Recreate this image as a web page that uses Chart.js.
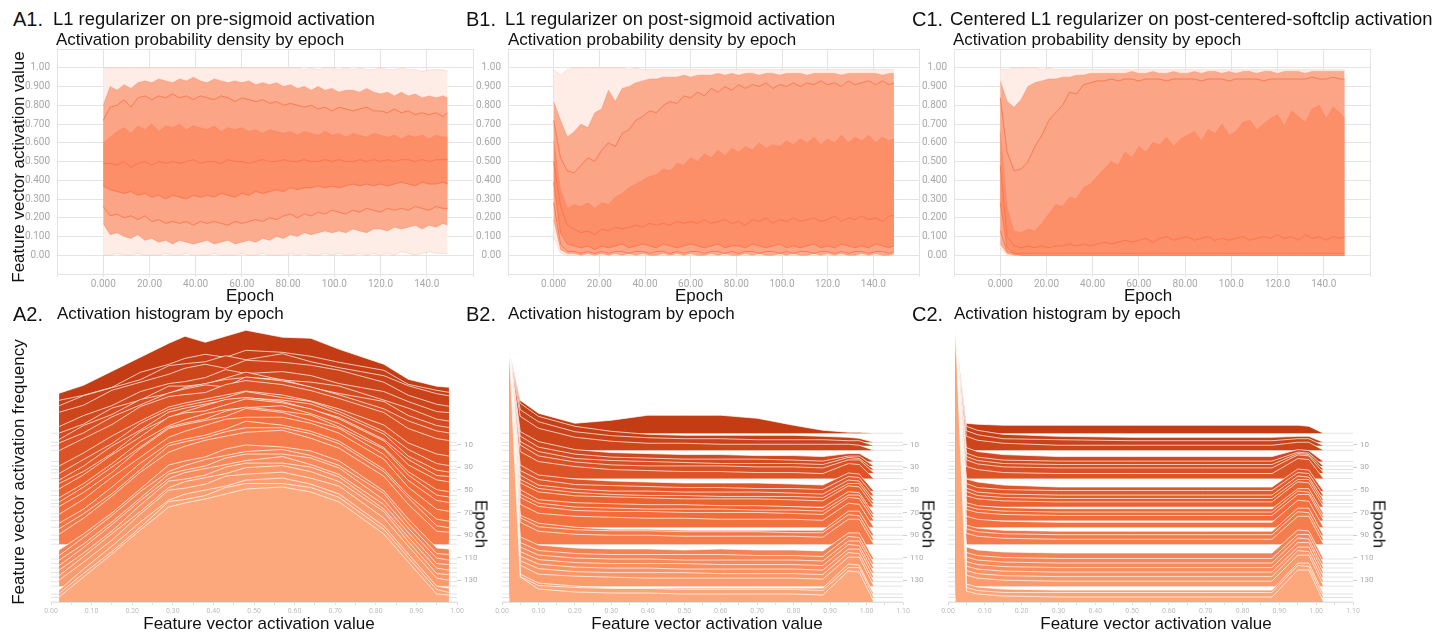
<!DOCTYPE html>
<html>
<head>
<meta charset="utf-8">
<script src="https://cdn.jsdelivr.net/npm/chart.js@4.4.1/dist/chart.umd.min.js"></script>
<style>
    body { margin: 0; width: 1449px; height: 639px; overflow: hidden; position: relative; background: #fff;
           font-family: "Liberation Sans", Arial, sans-serif; color: #111; }
    canvas { position: absolute; }
    .t { position: absolute; white-space: nowrap; line-height: 1; }
    .tag { font-size: 20px; }
    .h1 { font-size: 18.4px; }
    .h2 { font-size: 17px; }
    .ax { font-size: 17px; }
    .c { transform: translateX(-50%); }
    .rl { transform: translate(-50%, -50%) rotate(-90deg); }
    .rr { transform: translate(-50%, -50%) rotate(90deg); }
</style>
</head>
<body>
<canvas id="a1" width="476" height="261" style="left:7px;top:35px"></canvas>
<canvas id="b1" width="471" height="261" style="left:458px;top:35px"></canvas>
<canvas id="c1" width="476" height="261" style="left:904px;top:35px"></canvas>
<canvas id="a2" width="448" height="308" style="left:39px;top:310px"></canvas>
<canvas id="b2" width="443" height="308" style="left:490px;top:310px"></canvas>
<canvas id="c2" width="447" height="308" style="left:936px;top:310px"></canvas>

<div class="t tag" style="left:13px;top:9px">A1.</div>
<div class="t h1" style="left:53px;top:10px">L1 regularizer on pre-sigmoid activation</div>
<div class="t h2" style="left:56px;top:31px">Activation probability density by epoch</div>
<div class="t tag" style="left:466px;top:9px">B1.</div>
<div class="t h1" style="left:505px;top:10px">L1 regularizer on post-sigmoid activation</div>
<div class="t h2" style="left:508px;top:31px">Activation probability density by epoch</div>
<div class="t tag" style="left:912px;top:9px">C1.</div>
<div class="t h1" style="left:950px;top:10px">Centered L1 regularizer on post-centered-softclip activation</div>
<div class="t h2" style="left:953px;top:31px">Activation probability density by epoch</div>

<div class="t ax c" style="left:250px;top:287px">Epoch</div>
<div class="t ax c" style="left:699px;top:287px">Epoch</div>
<div class="t ax c" style="left:1148px;top:287px">Epoch</div>

<div class="t tag" style="left:13px;top:304px">A2.</div>
<div class="t h2" style="left:57px;top:305px">Activation histogram by epoch</div>
<div class="t tag" style="left:466px;top:304px">B2.</div>
<div class="t h2" style="left:508px;top:305px">Activation histogram by epoch</div>
<div class="t tag" style="left:912px;top:304px">C2.</div>
<div class="t h2" style="left:954px;top:305px">Activation histogram by epoch</div>

<div class="t ax c" style="left:259px;top:615px">Feature vector activation value</div>
<div class="t ax c" style="left:707px;top:615px">Feature vector activation value</div>
<div class="t ax c" style="left:1156px;top:615px">Feature vector activation value</div>

<div class="t ax rl" style="left:18px;top:167px">Feature vector activation value</div>
<div class="t ax rl" style="left:18px;top:472px">Feature vector activation frequency</div>
<div class="t ax rr" style="left:481px;top:524px">Epoch</div>
<div class="t ax rr" style="left:928px;top:524px">Epoch</div>
<div class="t ax rr" style="left:1379px;top:524px">Epoch</div>

<script>
// ===========================================================================
// Activation density (top row) and activation histograms (bottom row)
// ===========================================================================

// ---- Top row: percentile bands per epoch ----------------------------------
const TOP_EPOCHS = [0,3,6,9,12,15,18,21,24,27,30,33,36,39,42,45,48,51,54,57,60,63,66,69,72,75,78,81,84,87,90,93,96,99,102,105,108,111,114,117,120,123,126,129,132,135,138,141,144,147,149];
const TOP_X_TICKS = [-20,0,20,40,60,80,100,120,140,160];
const TOP_X_LABELS = ["","0.000","20.00","40.00","60.00","80.00","100.0","120.0","140.0",""];
const TOP_Y_TICKS = [-0.1,0,0.1,0.2,0.3,0.4,0.5,0.6,0.7,0.8,0.9,1.0,1.1];
const TOP_Y_LABELS = ["","0.00","0.100","0.200","0.300","0.400","0.500","0.600","0.700","0.800","0.900","1.00",""];

const A1_MAX = [1.00,1.00,1.00,1.00,1.00,1.00,1.00,1.00,1.00,1.00, 1.00,1.00,1.00,1.00,1.00,1.00,1.00,1.00,1.00,1.00, 1.00,1.00,1.00,1.00,1.00,1.00,1.00,1.00,1.00,0.99, 1.00,0.99,1.00,1.00,0.99,1.00,0.99,1.00,0.99,0.99, 1.00,0.99,0.99,1.00,0.99,0.99,0.98,0.99,0.99,0.99,0.98];
const A1_P93 = [0.80,0.90,0.88,0.91,0.89,0.92,0.93,0.92,0.94,0.93, 0.92,0.94,0.93,0.95,0.93,0.92,0.94,0.93,0.92,0.93, 0.92,0.93,0.91,0.92,0.91,0.92,0.90,0.91,0.89,0.90, 0.88,0.90,0.88,0.89,0.87,0.88,0.88,0.87,0.89,0.87, 0.86,0.87,0.85,0.87,0.85,0.86,0.84,0.85,0.84,0.85,0.84];
const A1_P84 = [0.72,0.79,0.80,0.83,0.79,0.84,0.85,0.83,0.85,0.84, 0.86,0.84,0.85,0.83,0.85,0.84,0.83,0.85,0.84,0.82, 0.84,0.83,0.82,0.83,0.81,0.82,0.80,0.81,0.80,0.79, 0.80,0.78,0.79,0.77,0.79,0.78,0.77,0.78,0.79,0.77, 0.77,0.76,0.78,0.76,0.77,0.75,0.76,0.75,0.76,0.74,0.76];
const A1_P69 = [0.60,0.63,0.66,0.68,0.65,0.69,0.67,0.70,0.66,0.69, 0.68,0.70,0.67,0.69,0.68,0.67,0.69,0.66,0.68,0.67, 0.68,0.66,0.67,0.65,0.67,0.66,0.65,0.66,0.64,0.66, 0.65,0.64,0.66,0.64,0.65,0.63,0.65,0.64,0.63,0.65, 0.64,0.63,0.64,0.62,0.64,0.63,0.64,0.62,0.64,0.63,0.63];
const A1_P50 = [0.49,0.49,0.48,0.50,0.47,0.49,0.50,0.48,0.50,0.49, 0.50,0.49,0.50,0.51,0.49,0.50,0.50,0.49,0.51,0.50, 0.50,0.49,0.50,0.51,0.50,0.50,0.51,0.50,0.50,0.51, 0.50,0.50,0.51,0.50,0.51,0.50,0.50,0.51,0.50,0.51, 0.50,0.51,0.50,0.51,0.51,0.50,0.51,0.50,0.51,0.51,0.51];
const A1_P31 = [0.37,0.35,0.34,0.33,0.34,0.32,0.33,0.31,0.32,0.30, 0.32,0.31,0.30,0.32,0.31,0.32,0.31,0.33,0.32,0.31, 0.33,0.32,0.34,0.33,0.34,0.35,0.34,0.36,0.35,0.36, 0.36,0.37,0.36,0.37,0.36,0.37,0.38,0.37,0.38,0.37, 0.38,0.37,0.38,0.39,0.38,0.37,0.39,0.38,0.38,0.39,0.38];
const A1_P16 = [0.26,0.21,0.22,0.20,0.21,0.19,0.21,0.18,0.19,0.17, 0.18,0.17,0.18,0.16,0.18,0.17,0.18,0.17,0.16,0.18, 0.17,0.18,0.19,0.18,0.20,0.19,0.21,0.22,0.20,0.22, 0.21,0.23,0.22,0.24,0.23,0.22,0.24,0.23,0.25,0.24, 0.23,0.25,0.24,0.25,0.24,0.26,0.25,0.24,0.26,0.25,0.25];
const A1_P7 = [0.17,0.11,0.12,0.10,0.09,0.11,0.08,0.09,0.07,0.08, 0.06,0.08,0.07,0.06,0.07,0.08,0.06,0.07,0.08,0.06, 0.07,0.08,0.07,0.09,0.08,0.10,0.09,0.11,0.10,0.12, 0.11,0.12,0.13,0.12,0.13,0.12,0.14,0.13,0.12,0.14, 0.14,0.13,0.15,0.14,0.15,0.16,0.14,0.16,0.15,0.17,0.16];
const A1_MIN = [0.00,0.00,0.01,0.00,0.00,0.01,0.00,0.00,0.00,0.01, 0.00,0.00,0.01,0.00,0.00,0.00,0.01,0.00,0.00,0.00, 0.01,0.00,0.00,0.01,0.00,0.00,0.00,0.01,0.00,0.01, 0.00,0.00,0.01,0.00,0.01,0.00,0.00,0.01,0.00,0.01, 0.00,0.01,0.00,0.02,0.01,0.00,0.01,0.02,0.01,0.01,0.01];

const B1_MAX = [0.99,0.96,0.99,1.00,1.00,1.00,1.00,1.00,1.00,1.00, 1.00,0.99,1.00,0.99,0.99,0.99,0.99,0.99,0.99,0.99, 0.99,0.99,0.99,0.99,0.99,0.99,0.99,0.99,0.99,0.99, 0.99,0.99,0.99,0.99,0.99,0.99,0.99,0.99,0.99,0.99, 0.99,0.99,0.99,0.99,0.99,0.99,0.99,0.99,0.99,0.99,0.99];
const B1_P93 = [0.82,0.72,0.63,0.66,0.70,0.68,0.76,0.78,0.88,0.82, 0.89,0.90,0.92,0.93,0.94,0.94,0.95,0.95,0.95,0.96, 0.95,0.96,0.96,0.96,0.97,0.96,0.97,0.96,0.97,0.97, 0.96,0.97,0.97,0.96,0.97,0.97,0.97,0.96,0.97,0.97, 0.97,0.97,0.96,0.97,0.97,0.97,0.97,0.97,0.96,0.97,0.97];
const B1_P84 = [0.72,0.52,0.45,0.44,0.48,0.52,0.50,0.56,0.60,0.58, 0.65,0.67,0.72,0.74,0.77,0.76,0.80,0.82,0.81,0.85, 0.84,0.87,0.85,0.89,0.87,0.90,0.88,0.91,0.89,0.91, 0.90,0.92,0.89,0.91,0.90,0.92,0.90,0.92,0.91,0.93, 0.91,0.92,0.90,0.93,0.91,0.92,0.93,0.91,0.93,0.91,0.92];
const B1_P69 = [0.61,0.35,0.25,0.27,0.26,0.28,0.25,0.28,0.27,0.31, 0.33,0.36,0.38,0.40,0.42,0.43,0.46,0.45,0.49,0.48, 0.52,0.50,0.54,0.52,0.56,0.53,0.57,0.55,0.58,0.56, 0.60,0.57,0.59,0.58,0.61,0.59,0.62,0.60,0.63,0.59, 0.62,0.60,0.64,0.60,0.63,0.61,0.64,0.60,0.63,0.61,0.62];
const B1_P50 = [0.50,0.26,0.16,0.14,0.12,0.13,0.11,0.14,0.13,0.15, 0.14,0.15,0.16,0.15,0.17,0.16,0.17,0.16,0.18,0.17, 0.18,0.17,0.19,0.17,0.18,0.19,0.17,0.18,0.16,0.19, 0.18,0.20,0.17,0.19,0.18,0.20,0.18,0.19,0.20,0.18, 0.19,0.21,0.18,0.20,0.19,0.21,0.19,0.20,0.18,0.21,0.21];
const B1_P31 = [0.39,0.12,0.06,0.05,0.04,0.05,0.03,0.05,0.04,0.05, 0.06,0.04,0.05,0.06,0.05,0.04,0.06,0.05,0.04,0.05, 0.06,0.05,0.04,0.05,0.06,0.04,0.05,0.05,0.04,0.06, 0.05,0.04,0.05,0.06,0.04,0.05,0.04,0.05,0.06,0.04, 0.05,0.04,0.06,0.05,0.04,0.05,0.04,0.06,0.05,0.04,0.05];
const B1_P16 = [0.28,0.06,0.02,0.02,0.01,0.02,0.01,0.02,0.01,0.02, 0.02,0.01,0.02,0.02,0.01,0.02,0.02,0.01,0.02,0.01, 0.02,0.02,0.01,0.02,0.02,0.01,0.02,0.01,0.02,0.02, 0.01,0.02,0.02,0.01,0.02,0.01,0.02,0.02,0.01,0.02, 0.02,0.01,0.02,0.01,0.02,0.02,0.01,0.02,0.02,0.01,0.02];
const B1_P7 = [0.19,0.03,0.01,0.01,0.00,0.01,0.00,0.01,0.00,0.01, 0.00,0.01,0.00,0.01,0.00,0.00,0.01,0.00,0.01,0.00, 0.01,0.00,0.00,0.01,0.00,0.01,0.00,0.00,0.01,0.00, 0.01,0.00,0.00,0.01,0.00,0.01,0.00,0.00,0.01,0.00, 0.01,0.00,0.01,0.00,0.00,0.01,0.00,0.01,0.00,0.00,0.01];
const B1_MIN = [0.10,0.01,0,0,0,0,0,0,0,0, 0,0,0,0,0,0,0,0,0,0, 0,0,0,0,0,0,0,0,0,0, 0,0,0,0,0,0,0,0,0,0, 0,0,0,0,0,0,0,0,0,0,0];

const C1_MAX = [0.99,0.99,1.00,1.00,1.00,1.00,0.99,1.00,0.99,0.99, 0.99,0.99,0.99,0.99,0.99,0.99,0.99,0.99,0.99,0.99, 0.99,0.99,0.99,0.99,0.99,0.99,0.99,0.99,0.99,0.99, 0.99,0.99,0.99,0.99,0.99,0.99,0.99,0.99,0.99,0.99, 0.99,0.99,0.99,0.99,0.99,0.99,0.99,0.99,0.99,0.99,0.99];
const C1_P93 = [0.93,0.82,0.79,0.83,0.90,0.92,0.93,0.94,0.94,0.95, 0.95,0.96,0.96,0.97,0.97,0.97,0.97,0.97,0.97,0.98, 0.97,0.97,0.98,0.97,0.97,0.98,0.97,0.97,0.98,0.97, 0.98,0.98,0.97,0.98,0.97,0.98,0.98,0.97,0.98,0.98, 0.97,0.98,0.98,0.98,0.97,0.98,0.98,0.98,0.98,0.98,0.98];
const C1_P84 = [0.84,0.55,0.45,0.46,0.50,0.58,0.64,0.72,0.76,0.80, 0.87,0.86,0.91,0.92,0.93,0.93,0.94,0.93,0.94,0.94, 0.93,0.94,0.94,0.94,0.93,0.94,0.94,0.94,0.94,0.93, 0.94,0.94,0.94,0.93,0.94,0.94,0.94,0.94,0.93,0.94, 0.94,0.94,0.94,0.94,0.94,0.95,0.94,0.94,0.95,0.94,0.94];
const C1_P69 = [0.66,0.25,0.13,0.12,0.14,0.13,0.17,0.22,0.27,0.26, 0.31,0.30,0.36,0.38,0.42,0.46,0.50,0.48,0.55,0.52, 0.58,0.55,0.60,0.59,0.63,0.58,0.62,0.64,0.66,0.61, 0.67,0.65,0.70,0.64,0.66,0.71,0.72,0.67,0.70,0.73, 0.75,0.69,0.77,0.74,0.71,0.78,0.80,0.73,0.79,0.76,0.73];
const C1_P50 = [0.48,0.10,0.05,0.04,0.05,0.04,0.05,0.04,0.05,0.05, 0.06,0.05,0.06,0.05,0.06,0.07,0.06,0.07,0.08,0.07, 0.08,0.09,0.07,0.09,0.10,0.08,0.09,0.10,0.08,0.09, 0.10,0.08,0.09,0.08,0.09,0.10,0.08,0.09,0.10,0.09, 0.11,0.09,0.10,0.08,0.11,0.09,0.10,0.08,0.10,0.09,0.10];
const C1_P31 = [0.28,0.04,0.01,0.01,0.01,0.01,0.01,0.01,0.01,0.01, 0.01,0.01,0.01,0.01,0.01,0.01,0.01,0.01,0.01,0.01, 0.01,0.01,0.01,0.01,0.01,0.01,0.01,0.01,0.01,0.01, 0.01,0.01,0.01,0.01,0.01,0.01,0.01,0.01,0.01,0.01, 0.01,0.01,0.01,0.01,0.01,0.01,0.01,0.01,0.01,0.01,0.01];
const C1_P16 = [0.13,0.02,0.01,0,0,0,0,0,0,0, 0,0,0,0,0,0,0,0,0,0, 0,0,0,0,0,0,0,0,0,0, 0,0,0,0,0,0,0,0,0,0, 0,0,0,0,0,0,0,0,0,0,0];
const C1_P7 = [0.06,0.01,0,0,0,0,0,0,0,0, 0,0,0,0,0,0,0,0,0,0, 0,0,0,0,0,0,0,0,0,0, 0,0,0,0,0,0,0,0,0,0, 0,0,0,0,0,0,0,0,0,0,0];
const C1_MIN = [0.04,0,0,0,0,0,0,0,0,0, 0,0,0,0,0,0,0,0,0,0, 0,0,0,0,0,0,0,0,0,0, 0,0,0,0,0,0,0,0,0,0, 0,0,0,0,0,0,0,0,0,0,0];

// ---- Bottom row: sampled histograms (heights are relative frequency) -------
const HIST_EPOCHS = [0,8,11,15,25,29,32,35,40,51,55,59,62,65,71,74,77,83,90,94,98,111,115,119,123,127,131,135,142,145,149];
const EPOCH_TICKS = [10,30,50,70,90,110,130];

const A2_BINS = [0.02,0.08,0.15,0.22,0.29,0.33,0.38,0.43,0.48,0.57,0.64,0.71,0.82,0.88,0.95,0.98];
const A2_ROWS = [
    [40,48,62,76,90,97,91,97,103,96,95,84,69,54,47,46],
    [42,47,55,70,78,84,88,85,92,90,86,80,72,58,52,50],
    [40,50,58,66,80,82,84,90,86,92,84,78,70,60,52,50],
    [38,45,60,68,76,82,86,82,90,88,85,80,68,55,46,44],
    [35,46,56,70,78,80,84,92,88,90,86,78,70,60,50,49],
    [33,42,58,66,80,80,82,88,94,86,84,80,66,58,47,45],
    [30,44,55,70,76,82,86,90,92,90,82,76,68,54,44,42],
    [30,40,56,68,80,84,88,86,96,92,86,78,64,52,42,40],
    [28,40,54,72,82,84,86,94,98,94,88,80,66,50,40,38],
    [25,38,55,70,84,88,92,96,100,96,90,82,66,48,37,35],
    [22,36,52,72,86,90,94,98,104,98,94,84,64,46,32,30],
    [20,34,54,70,88,92,96,100,102,100,96,86,66,44,30,28],
    [20,32,50,72,86,92,98,104,106,102,94,86,64,44,28,27],
    [18,32,52,70,90,94,96,102,108,104,98,88,66,42,27,25],
    [16,30,50,72,88,94,100,104,106,108,100,90,66,42,24,22],
    [15,30,50,70,90,94,98,106,110,106,102,90,68,42,22,20],
    [14,28,48,72,92,96,100,104,112,108,100,92,66,40,20,18],
    [13,28,50,70,90,96,102,108,110,110,104,94,68,40,18,16],
    [12,26,48,72,92,96,100,106,114,110,104,94,66,40,16,14],
    [11,26,46,70,94,98,102,108,112,112,106,96,68,42,14,12],
    [10,26,48,72,92,98,104,108,112,114,106,96,68,40,13,12],
    [9,25,46,70,94,98,102,110,114,112,108,98,68,40,11,10],
    [8,26,48,72,92,98,104,108,112,114,108,98,70,40,10,9],
    [8,24,46,70,94,98,102,110,114,114,110,100,68,40,10,8],
    [7,25,48,72,94,100,104,108,112,116,108,98,68,40,9,8],
    [7,24,46,72,96,98,102,110,114,114,110,100,68,40,9,7],
    [6,25,48,70,94,100,104,108,114,116,110,100,70,40,8,7],
    [6,24,46,72,96,98,102,110,112,114,108,100,68,40,8,6],
    [4,25,48,72,94,100,104,108,114,116,110,100,68,40,8,6],
    [4,24,46,70,96,98,102,110,114,114,110,100,68,40,8,5],
    [5,25,48,72,95,99,103,108,113,115,110,100,68,40,8,7],
];
const A2_X_TICKS = [0,0.05,0.1,0.15,0.2,0.25,0.3,0.35,0.4,0.45,0.5,0.55,0.6,0.65,0.7,0.75,0.8,0.85,0.9,0.95,1.0];
const A2_X_LABELS = ["0.00","","0.10","","0.20","","0.30","","0.40","","0.50","","0.60","","0.70","","0.80","","0.90","","1.00"];

const B2_BINS = [0.02,0.05,0.10,0.20,0.30,0.40,0.50,0.60,0.70,0.80,0.88,0.95,0.98,1.02];
const B2_ROWS = [
    [83,33,20,10,13,18,18,18,15,8,3,1,1,0],
    [92,39,26,16,11,8,7,7,7,7,6,5,4,0],
    [96,36,24,14,10,8,7,7,6,6,6,5,5,0],
    [100,34,22,13,9,7,7,6,6,6,6,6,5,0],
    [112,30,20,12,9,8,7,7,6,6,5,8,8,0],
    [117,30,19,12,9,8,7,7,7,6,5,10,10,0],
    [120,28,18,11,9,8,7,6,6,6,5,12,11,0],
    [124,28,17,11,8,7,7,7,6,6,5,13,13,0],
    [128,27,17,12,9,8,7,7,6,6,5,15,14,0],
    [141,26,16,12,10,9,8,8,8,7,6,18,17,0],
    [145,25,16,11,10,9,8,8,7,7,6,19,18,0],
    [150,25,15,11,9,9,8,8,8,7,6,20,19,0],
    [153,24,15,11,9,8,8,7,7,7,6,20,20,0],
    [156,24,15,11,10,9,8,8,8,7,6,21,20,0],
    [163,24,14,11,10,9,9,8,8,7,6,22,21,0],
    [167,23,14,10,9,8,8,8,7,7,6,22,22,0],
    [170,23,14,10,9,9,8,8,8,7,6,23,22,0],
    [177,23,14,11,10,9,9,8,8,8,7,24,23,0],
    [185,20,12,8,6,6,5,5,5,5,5,24,24,0],
    [190,22,13,10,9,9,8,8,8,7,7,25,24,0],
    [194,22,13,10,9,9,8,8,8,8,7,25,25,0],
    [209,22,14,11,10,10,9,10,9,9,8,26,26,0],
    [213,21,13,10,9,9,9,9,8,8,7,27,26,0],
    [218,21,13,10,9,9,8,8,8,8,7,27,27,0],
    [222,21,13,10,9,9,9,8,8,8,7,28,27,0],
    [227,21,13,10,9,9,8,8,8,8,7,28,28,0],
    [231,21,13,10,9,9,9,8,8,8,7,29,28,0],
    [236,21,12,10,9,8,8,8,8,8,7,29,29,0],
    [244,20,11,8,6,6,6,6,6,6,6,30,29,0],
    [247,21,12,10,9,9,8,8,8,8,7,30,30,0],
    [252,25,13,10,9,9,8,8,8,8,7,31,30,0],
];
const WIDE_X_TICKS = [0,0.05,0.1,0.15,0.2,0.25,0.3,0.35,0.4,0.45,0.5,0.55,0.6,0.65,0.7,0.75,0.8,0.85,0.9,0.95,1.0,1.05,1.1];
const WIDE_X_LABELS = ["0.00","","0.10","","0.20","","0.30","","0.40","","0.50","","0.60","","0.70","","0.80","","0.90","","1.00","","1.10"];

const C2_BINS = [0.02,0.05,0.08,0.15,0.30,0.50,0.70,0.88,0.95,0.98,1.02];
const C2_ROWS = [
    [100,10,9,8,8,8,8,8,8,7,0],
    [110,16,12,8,6,5,5,5,6,6,0],
    [113,15,11,7,6,5,5,5,7,7,0],
    [117,14,10,7,5,5,5,5,8,8,0],
    [128,14,10,7,5,5,5,5,12,11,0],
    [133,13,9,6,5,5,5,5,14,13,0],
    [136,13,9,6,5,5,5,5,16,15,0],
    [140,13,9,6,5,5,5,5,18,17,0],
    [145,12,9,6,5,5,5,5,20,19,0],
    [158,12,9,6,4,4,4,4,22,21,0],
    [162,12,8,6,5,5,5,5,23,22,0],
    [167,12,8,6,5,5,5,5,24,23,0],
    [170,12,8,6,5,5,5,5,24,24,0],
    [174,11,8,6,5,5,5,5,25,24,0],
    [181,11,8,6,5,5,5,5,25,25,0],
    [184,11,8,6,5,5,5,5,26,25,0],
    [187,11,8,6,5,5,5,5,26,26,0],
    [194,11,8,6,5,5,5,5,27,26,0],
    [202,10,7,5,4,4,4,4,27,27,0],
    [207,11,8,6,5,5,5,5,28,27,0],
    [211,11,8,6,5,5,5,5,28,28,0],
    [226,12,9,7,6,6,6,6,29,28,0],
    [230,11,8,6,5,5,5,5,29,29,0],
    [235,11,8,6,5,5,5,5,30,29,0],
    [239,11,8,6,5,5,5,5,30,30,0],
    [244,11,8,6,5,5,5,5,30,30,0],
    [248,11,8,6,5,5,5,5,31,30,0],
    [253,11,8,6,5,5,5,5,31,31,0],
    [261,10,7,5,4,4,4,4,31,31,0],
    [264,10,7,5,5,5,5,5,32,31,0],
    [275,11,8,6,5,5,5,5,32,32,0],
];

// ---- Styles ---------------------------------------------------------------
const GRID = "#e4e4e4";
const TICK = "#a8a8a8";
const BAND_OUTER = "#fdede6";
const BAND_MID = "#fbab8e";
const BAND_MID2 = "#fba486";
const BAND_DARK = "#fc8e68";
const EDGE = "rgba(250,112,70,0.8)";
const EDGE_SOFT = "rgba(250,120,80,0.35)";
const EDGE_FAINT = "rgba(250,150,120,0.25)";
const HEIGHT_TO_EPOCH = 249 / 282; // one unit of histogram height, in epoch rows

Chart.defaults.font.family = "Roboto";

const plain = {
    responsive: false,
    animation: false,
    events: [],
    plugins: { legend: { display: false }, tooltip: { enabled: false } },
};

// ---- Top row: percentile density -----------------------------------------
function makeDensity(id, p) {
    const pts = (arr) => TOP_EPOCHS.map((e, i) => ({ x: e, y: arr[i] }));
    const line = (arr, color, fill, bg, order) => ({
        data: pts(arr),
        borderColor: color,
        borderWidth: 1,
        pointRadius: 0,
        tension: 0,
        fill: fill,
        backgroundColor: bg || "transparent",
        order: order,
    });
    new Chart(document.getElementById(id), {
        type: "line",
        data: {
            datasets: [
                line(p[0], EDGE_FAINT, 8, BAND_OUTER, 8),
                line(p[1], EDGE_SOFT, 7, BAND_MID, 7),
                line(p[2], EDGE, 6, BAND_MID2, 6),
                line(p[3], EDGE_SOFT, 5, BAND_DARK, 5),
                line(p[4], EDGE, false, null, 0),
                line(p[5], EDGE, false, null, 0),
                line(p[6], EDGE, false, null, 0),
                line(p[7], EDGE_SOFT, false, null, 0),
                line(p[8], EDGE_FAINT, false, null, 0),
            ],
        },
        options: {
            ...plain,
            layout: { padding: { left: 0, right: 10, top: 14, bottom: 0 } },
            scales: {
                x: {
                    type: "linear", min: -20, max: 160,
                    afterBuildTicks: (s) => { s.ticks = TOP_X_TICKS.map((v) => ({ value: v })); },
                    afterFit: (s) => { s.height = 22; },
                    grid: { color: GRID, tickColor: GRID, tickLength: 3 },
                    border: { color: GRID },
                    ticks: { color: TICK, font: { size: 10 }, padding: 1, maxRotation: 0, autoSkip: false,
                             callback: (v, i) => TOP_X_LABELS[i] },
                },
                y: {
                    min: -0.1, max: 1.1,
                    afterBuildTicks: (s) => { s.ticks = TOP_Y_TICKS.map((v) => ({ value: v })); },
                    afterFit: (s) => { s.width = 50; },
                    grid: { color: GRID, drawTicks: false },
                    border: { color: GRID },
                    ticks: { color: TICK, font: { size: 10 }, padding: 7, autoSkip: false,
                             callback: (v, i) => TOP_Y_LABELS[i] },
                },
            },
        },
    });
}

// ---- Bottom row: offset histograms ---------------------------------------
function histColor(t) {
    const a = [196, 60, 20], b = [241, 104, 54], c = [252, 168, 124];
    const mix = (p, q, k) => p.map((v, i) => Math.round(v + (q[i] - v) * k));
    const rgb = t < 0.5 ? mix(a, b, t / 0.5) : mix(b, c, (t - 0.5) / 0.5);
    return `rgb(${rgb.join(",")})`;
}

function makeRidge(id, bins, rows, xMax, xTicks, xLabels) {
    const n = HIST_EPOCHS.length;
    const baseLines = [];
    HIST_EPOCHS.forEach((e) => {
        baseLines.push({ x: 0, y: e }, { x: xMax, y: e }, { x: xMax, y: null });
    });
    const datasets = [{
        data: baseLines, borderColor: "rgba(0,0,0,0.11)", borderWidth: 1,
        pointRadius: 0, fill: false, spanGaps: false, order: n + 2,
    }];
    HIST_EPOCHS.forEach((e, i) => {
        datasets.push({
            data: bins.map((x, j) => ({ x: x, y: e - rows[i][j] * HEIGHT_TO_EPOCH })),
            borderColor: "rgba(255,255,255,0.7)",
            borderWidth: 1,
            pointRadius: 0,
            tension: 0,
            backgroundColor: histColor(i / (n - 1)),
            fill: { value: e },
            order: n - i,
        });
    });
    new Chart(document.getElementById(id), {
        type: "line",
        data: { datasets },
        options: {
            ...plain,
            layout: { padding: { left: 12, right: 0, top: 10, bottom: 0 } },
            scales: {
                x: {
                    type: "linear", min: 0, max: xMax,
                    afterBuildTicks: (s) => { s.ticks = xTicks.map((v) => ({ value: v })); },
                    afterFit: (s) => { s.height = 16; },
                    grid: { drawOnChartArea: false, color: "#dcdcdc", tickLength: 3 },
                    border: { color: "#e2e2e2" },
                    ticks: { color: "#bdbdbd", font: { size: 7 }, padding: 2, maxRotation: 0, autoSkip: false,
                             callback: (v, i) => xLabels[i] },
                },
                y: {
                    position: "right", reverse: true, min: -100, max: 149,
                    afterBuildTicks: (s) => { s.ticks = EPOCH_TICKS.map((v) => ({ value: v })); },
                    afterFit: (s) => { s.width = 30; },
                    grid: { drawOnChartArea: false, color: "#cfcfcf", tickLength: 4 },
                    border: { display: false },
                    ticks: { color: "#aaa", font: { size: 8 }, padding: 3, callback: (v) => String(v) },
                },
            },
        },
    });
}

// ---- Boot -----------------------------------------------------------------
makeDensity("a1", [A1_MAX, A1_P93, A1_P84, A1_P69, A1_P50, A1_P31, A1_P16, A1_P7, A1_MIN]);
makeDensity("b1", [B1_MAX, B1_P93, B1_P84, B1_P69, B1_P50, B1_P31, B1_P16, B1_P7, B1_MIN]);
makeDensity("c1", [C1_MAX, C1_P93, C1_P84, C1_P69, C1_P50, C1_P31, C1_P16, C1_P7, C1_MIN]);

makeRidge("a2", A2_BINS, A2_ROWS, 1.0, A2_X_TICKS, A2_X_LABELS);
makeRidge("b2", B2_BINS, B2_ROWS, 1.1, WIDE_X_TICKS, WIDE_X_LABELS);
makeRidge("c2", C2_BINS, C2_ROWS, 1.1, WIDE_X_TICKS, WIDE_X_LABELS);
</script>
</body>
</html>
